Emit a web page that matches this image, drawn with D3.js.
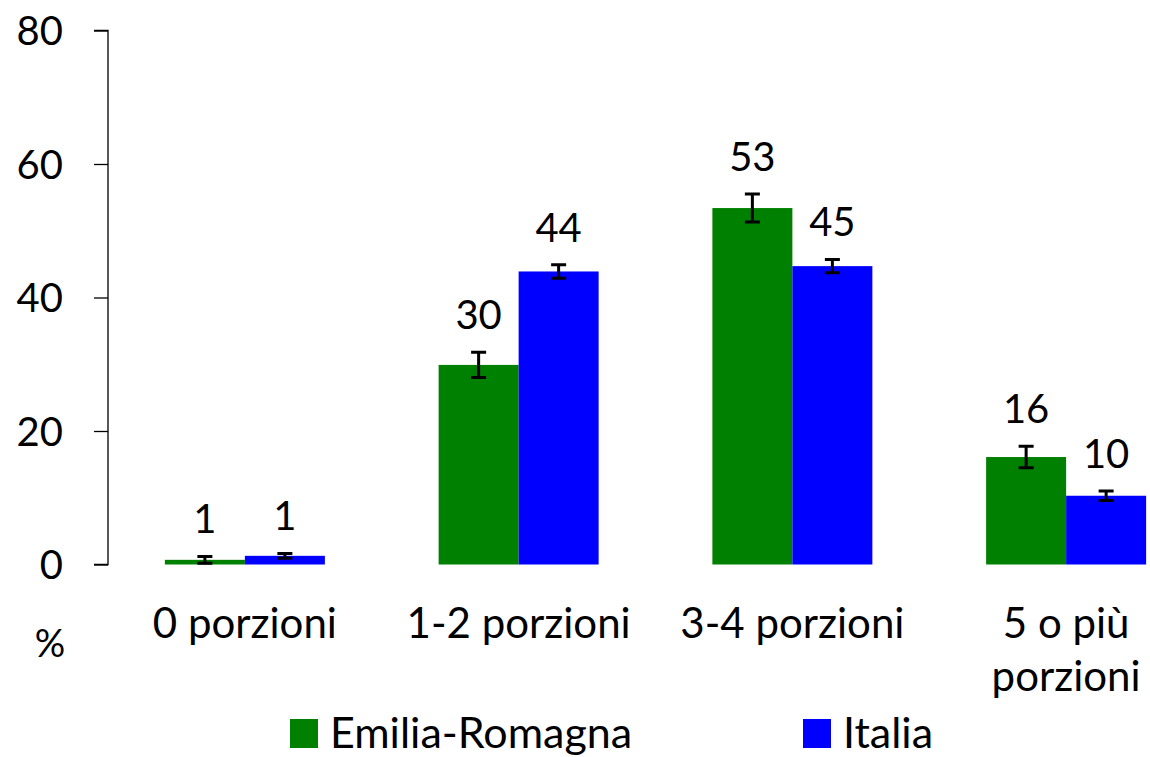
<!DOCTYPE html>
<html>
<head>
<meta charset="utf-8">
<script src="https://cdn.jsdelivr.net/npm/d3@7"></script>
<style>
  body { margin: 0; background: #fff; }
  svg text { font-family: Lato, "Open Sans", sans-serif; fill: #000; }
</style>
</head>
<body>
<div id="chart"></div>
<script>
// data
var categories = ["0 porzioni", "1-2 porzioni", "3-4 porzioni", "5 o più porzioni"];
var series = ["Emilia-Romagna", "Italia"];
var colors = ["#008000", "#0000ff"];
var emiliaValues = [0.7, 29.9, 53.4, 16.1];
var emiliaErrors = [0.5, 1.9, 2.1, 1.6];
var italiaValues = [1.3, 43.9, 44.7, 10.3];
var italiaErrors = [0.35, 1.0, 1.0, 0.7];
var yTicks = [0, 20, 40, 60, 80];

var width = 1150, height = 757;

var svg = d3.select("#chart").append("svg")
    .attr("width", width)
    .attr("height", height);

var y = d3.scaleLinear().domain([0, 80]).range([564.5, 30.5]);
var x0 = d3.scaleBand().domain(categories).range([108, 1203]).padding(0);
var bw = x0.bandwidth();
var x1 = d3.scaleBand().domain(series).range([bw / 2 - 80, bw / 2 + 80]).padding(0);

var rows = [];
categories.forEach(function(c, i) {
    rows.push({cat: c, s: series[0], v: emiliaValues[i], e: emiliaErrors[i], col: colors[0]});
    rows.push({cat: c, s: series[1], v: italiaValues[i], e: italiaErrors[i], col: colors[1]});
});

// y axis
var yAxis = svg.append("g")
    .attr("transform", "translate(108,0)")
    .call(d3.axisLeft(y).tickValues(yTicks).tickSize(14).tickPadding(31));
yAxis.select(".domain").attr("stroke", "#000").attr("stroke-width", 1.3)
    .attr("d", "M-14," + y(80) + "H0V" + y(0) + "H-14");
yAxis.selectAll(".tick line").attr("stroke", "#000").attr("stroke-width", 1.3);
yAxis.selectAll(".tick text")
    .style("font-family", "Lato, 'Open Sans', sans-serif")
    .style("font-size", "40px")
    .attr("fill", "#000")
    .attr("dy", "0.36em");

svg.append("text")
    .attr("x", 50).attr("y", 657)
    .attr("text-anchor", "middle")
    .style("font-size", "38px")
    .text("%");

// bars
var groups = svg.selectAll("g.bar")
    .data(rows)
    .enter().append("g")
    .attr("class", "bar")
    .attr("transform", function(d) { return "translate(" + (x0(d.cat) + x1(d.s)) + ",0)"; });

groups.append("rect")
    .attr("x", 0)
    .attr("width", x1.bandwidth())
    .attr("y", function(d) { return y(d.v); })
    .attr("height", function(d) { return y(0) - y(d.v); })
    .attr("fill", function(d) { return d.col; });

var cx = x1.bandwidth() / 2;
groups.append("path")
    .attr("d", function(d) {
        var t = y(d.v + d.e), b = y(d.v - d.e);
        return "M" + cx + "," + t + "V" + b +
               "M" + (cx - 7.5) + "," + t + "H" + (cx + 7.5) +
               "M" + (cx - 7.5) + "," + b + "H" + (cx + 7.5);
    })
    .attr("stroke", "#000")
    .attr("stroke-width", 3)
    .attr("fill", "none");

groups.append("text")
    .attr("x", cx)
    .attr("y", function(d) { return y(d.v + d.e) - 23; })
    .attr("text-anchor", "middle")
    .style("font-size", "40px")
    .text(function(d) { return d3.format(".0f")(d.v); });

// category labels
var catLabels = svg.selectAll("text.cat")
    .data(categories)
    .enter().append("text")
    .attr("class", "cat")
    .attr("text-anchor", "middle")
    .attr("x", function(d) { return x0(d) + bw / 2; })
    .attr("y", 638)
    .style("font-size", "42px");

catLabels.each(function(d) {
    var t = d3.select(this);
    if (d === "5 o più porzioni") {
        t.append("tspan").attr("x", x0(d) + bw / 2).attr("y", 638).text("5 o più");
        t.append("tspan").attr("x", x0(d) + bw / 2).attr("y", 691).text("porzioni");
    } else {
        t.text(d);
    }
});

// legend
var legendX = [290, 803];
var legend = svg.selectAll("g.legend")
    .data(series)
    .enter().append("g")
    .attr("class", "legend")
    .attr("transform", function(d, i) { return "translate(" + legendX[i] + ",719)"; });

legend.append("rect")
    .attr("width", 28).attr("height", 29)
    .attr("fill", function(d, i) { return colors[i]; });

legend.append("text")
    .attr("x", 40).attr("y", 29)
    .style("font-size", "43px")
    .text(function(d) { return d; });
</script>
</body>
</html>
